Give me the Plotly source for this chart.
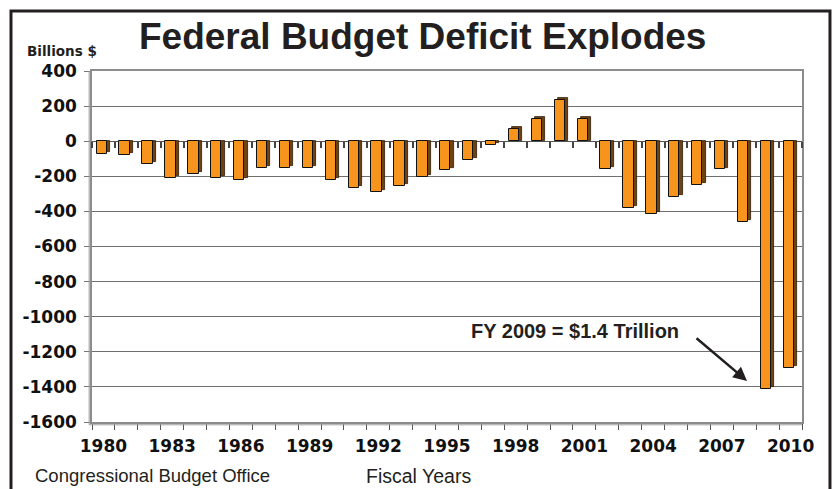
import plotly.graph_objects as go

# Federal budget surplus / deficit, billions of dollars, fiscal years 1980-2010
years = list(range(1980, 2011))
deficit = [-74, -79, -128, -208, -185, -212, -221, -150, -155, -153,
           -221, -269, -290, -255, -203, -164, -107, -22, 69, 126,
           236, 128, -158, -378, -413, -318, -248, -161, -459, -1413, -1294]

y_ticks = [400, 200, 0, -200, -400, -600, -800, -1000, -1200, -1400, -1600]
y_tick_text = ["400", "200", "0", "-200", "-400", "-600", "-800",
               "-1000", "-1200", "-1400", "-1600"]
x_label_years = [1980, 1983, 1986, 1989, 1992, 1995, 1998, 2001, 2004, 2007, 2010]

ORANGE = "#F7941D"
SIDE = "#6E4314"
INK = "#231f20"
GRID = "#6f6f6f"

# pseudo-3D depth of each bar (shifted right in category units, up in data units)
depth_x = 0.14
depth_y = 11

fig = go.Figure()

# side / top face, drawn behind the front face
fig.add_trace(go.Bar(
    x=years, y=[v + depth_y for v in deficit], base=[0] * len(years),
    offset=-0.30 + depth_x, width=0.45,
    marker=dict(color=SIDE, line=dict(color="#2a1a08", width=0.8)),
    hoverinfo="skip", showlegend=False,
))
# front face
fig.add_trace(go.Bar(
    x=years, y=deficit, base=[0] * len(years),
    offset=-0.30, width=0.45,
    marker=dict(color=ORANGE, line=dict(color="#111111", width=1)),
    showlegend=False,
))

# helper trace bound to the category axis drawn along the zero line
fig.add_trace(go.Scatter(x=[years[0]], y=[0], xaxis="x2", mode="markers",
                         marker=dict(opacity=0), hoverinfo="skip", showlegend=False))

x_range = [years[0] - 0.5, years[-1] + 0.5]
tick_font = dict(family="DejaVu Sans", size=17, color="#111111", weight="bold")

fig.update_layout(
    width=835, height=489, autosize=False,
    margin=dict(l=92, r=33, t=71, b=67),
    paper_bgcolor="white", plot_bgcolor="white",
    barmode="overlay", bargap=0,
    font=dict(family="Liberation Sans, Arial, sans-serif", color=INK),
    xaxis=dict(
        range=x_range, tickmode="array", tickvals=x_label_years,
        ticktext=[str(v) for v in x_label_years],
        ticks="", showgrid=False, zeroline=False,
        showline=True, linecolor="#8c8c8c", linewidth=1.5, mirror=True,
        tickfont=tick_font,
        ticklabelstandoff=8,
        minor=dict(tickmode="linear", tick0=years[0] - 0.5, dtick=1,
                   ticks="outside", ticklen=6, tickwidth=1, tickcolor="#555555",
                   showgrid=False),
    ),
    xaxis2=dict(
        range=x_range, overlaying="x", anchor="free",
        position=(0 - y_ticks[-1]) / (y_ticks[0] - y_ticks[-1]),
        showline=False, showgrid=False, zeroline=False, showticklabels=False,
        tickmode="linear", tick0=years[0] - 0.5, dtick=1,
        ticks="outside", ticklen=6, tickwidth=1.5, tickcolor="#444444",
    ),
    yaxis=dict(
        range=[y_ticks[-1], y_ticks[0]], tickmode="array",
        tickvals=y_ticks, ticktext=y_tick_text,
        ticks="outside", ticklen=6, tickcolor="#777777",
        showgrid=True, gridcolor=GRID, gridwidth=1,
        zeroline=True, zerolinecolor="#555555", zerolinewidth=1,
        showline=True, linecolor="#8c8c8c", linewidth=1.5, mirror=True,
        tickfont=tick_font,
        ticklabelstandoff=4,
    ),
)

# outer frame around the whole graphic
fig.add_shape(type="rect", xref="paper", yref="paper",
              x0=-0.1141, x1=1.0394, y0=-0.35, y1=1.171,
              line=dict(color=INK, width=3), fillcolor="rgba(0,0,0,0)", layer="below")
# inner wall edges (double line look on left and bottom)
fig.add_shape(type="line", xref="paper", yref="paper", x0=-0.004, x1=-0.004, y0=-0.008, y1=1,
              line=dict(color="#9a9a9a", width=1))
fig.add_shape(type="line", xref="paper", yref="paper", x0=-0.004, x1=1, y0=-0.008, y1=-0.008,
              line=dict(color="#9a9a9a", width=1))

fig.add_annotation(text="<b>Federal Budget Deficit Explodes</b>", xref="paper", yref="paper",
                   x=0.4655, y=1.097, xanchor="center", yanchor="middle", showarrow=False,
                   font=dict(size=37, color=INK, family="Liberation Sans, Arial, sans-serif"))
fig.add_annotation(text="<b>Billions $</b>", xref="paper", yref="paper",
                   x=-0.0423, y=1.057, xanchor="center", yanchor="middle", showarrow=False,
                   font=dict(size=13.5, color=INK, family="DejaVu Sans"))
fig.add_annotation(text="Congressional Budget Office", xref="paper", yref="paper",
                   x=-0.0831, y=-0.1538, xanchor="left", yanchor="middle", showarrow=False,
                   font=dict(size=18.5, color=INK))
fig.add_annotation(text="Fiscal Years", xref="paper", yref="paper",
                   x=0.3831, y=-0.1538, xanchor="left", yanchor="middle", showarrow=False,
                   font=dict(size=19.5, color=INK))

# callout for the FY 2009 deficit
fy2009 = deficit[years.index(2009)]
fig.add_annotation(text="<b>FY 2009 = $1.4 Trillion</b>", x=2000.6, y=-1081,
                   xanchor="center", yanchor="middle", showarrow=False,
                   font=dict(size=20, color=INK))
fig.add_annotation(text="", x=2008.1, y=fy2009 + 47, ax=-52, ay=-44,
                   showarrow=True, arrowhead=2, arrowsize=1.1, arrowwidth=2.5,
                   arrowcolor=INK)

fig.write_html("out.html")
